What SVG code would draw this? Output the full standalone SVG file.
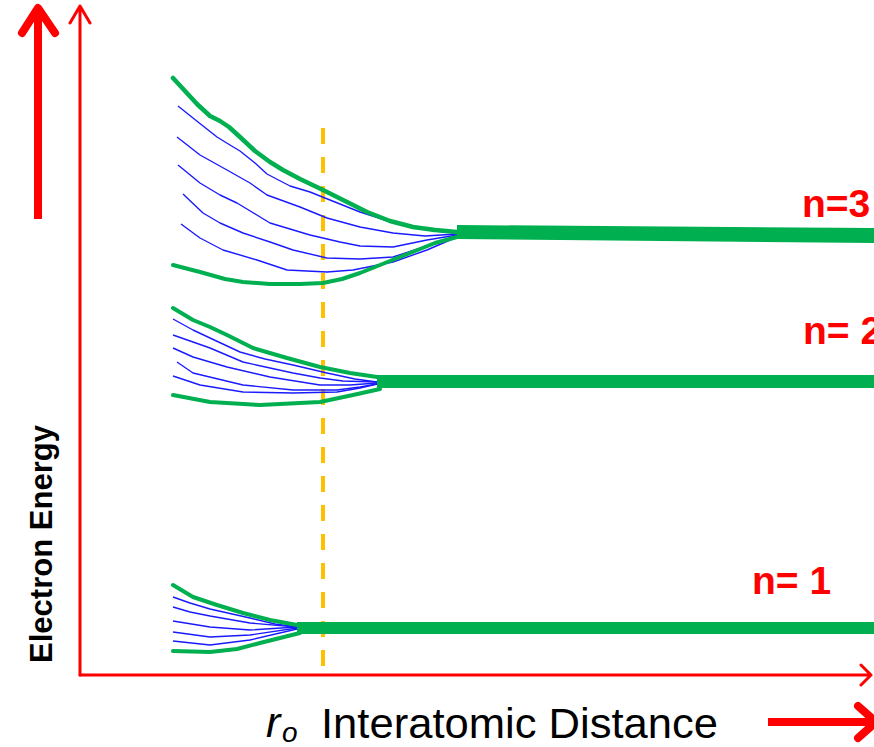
<svg xmlns="http://www.w3.org/2000/svg" width="874" height="747" viewBox="0 0 874 747">
<style>
.ax{fill:none;stroke:#FF0000;stroke-width:3;stroke-linecap:round;stroke-linejoin:round}
.big{fill:none;stroke:#FF0000;stroke-width:8;stroke-linejoin:round}
.g{fill:none;stroke:#00B050;stroke-width:4;stroke-linejoin:round;stroke-linecap:round}
.b{fill:none;stroke:#1a1aff;stroke-width:1.4;stroke-linejoin:round}
.bar{fill:#00B050}
.lbl{font-family:"Liberation Sans",Arial,sans-serif;font-weight:bold;font-size:39px;fill:#FF0000}
.txt{font-family:"Liberation Sans",Arial,sans-serif;fill:#000}
</style>
<rect width="874" height="747" fill="#fff"/>

<g id="axes">
  <path class="ax" d="M80,675 V6 M70,23 L80,6 L90,23"/>
  <path class="ax" d="M80,675 H871 M861,665 L871,675 L861,685"/>
  <path class="big" d="M38,219 V10"/>
  <path class="big" d="M22,33 L38,8 L55,33" style="stroke-linecap:round"/>
  <path class="big" d="M768,722 H870"/>
  <path class="big" d="M858,706 L876,722 L858,738" style="stroke-linecap:round"/>
  <line x1="323" y1="128" x2="323" y2="668" stroke="#FFC000" stroke-width="4" stroke-dasharray="16 13"/>
</g>

<g id="band-n3">
  <polygon class="bar" points="457,225 874,228 874,243 457,239"/>
  <path class="b" d="M178,106 L198,122 L217,137 L230,145 L240,151 L255,163 L267,174 L290,186 L310,192 L335,202 L360,212 L385,220 L410,227 L435,231 L457,233"/>
  <path class="b" d="M177,137 L200,155 L227,170 L250,183 L267,195 L300,207 L327,218 L360,227 L393,233 L425,236 L457,234"/>
  <path class="b" d="M178,165 L200,183 L220,195 L237,203 L270,223 L310,235 L340,242 L360,246 L393,247 L427,240 L457,235"/>
  <path class="b" d="M183,194 L203,213 L220,223 L243,233 L270,242 L293,250 L327,258 L360,259 L393,257 L427,246 L457,236"/>
  <path class="b" d="M181,224 L200,238 L223,250 L257,260 L287,270 L327,272 L353,270 L393,262 L427,250 L457,237"/>
  <path class="g" style="stroke-width:4.5" d="M173,78 L185,91 L197,104 L210,116 L220,121 L229,127 L240,137 L255,151 L270,162 L283,170 L300,179 L323,190 L345,201 L367,212 L390,221 L413,227 L435,230 L457,232"/>
  <path class="g" d="M173,265 L200,272 L225,279 L243,282 L270,284 L300,284 L323,283 L342,279 L360,273 L385,263 L410,253 L435,243 L457,237"/>
</g>

<g id="band-n2">
  <polygon class="bar" points="377,375 874,375 874,388 377,388"/>
  <path class="b" d="M173,319 L193,330 L210,338 L240,352 L265,359 L293,365 L327,373 L355,379 L377,382"/>
  <path class="b" d="M173,335 L193,342 L210,348 L243,362 L270,368 L293,373 L320,378 L343,381 L377,382"/>
  <path class="b" d="M173,348 L193,357 L227,367 L270,377 L320,385 L350,385 L377,383"/>
  <path class="b" d="M177,362 L193,373 L243,385 L293,390 L337,390 L360,387 L377,384"/>
  <path class="b" d="M173,376 L200,385 L243,392 L293,393 L337,392 L360,388 L377,384"/>
  <path class="g" d="M173,308 L193,320 L210,327 L227,335 L253,348 L287,358 L320,367 L350,373 L377,377"/>
  <path class="g" d="M173,395 L210,402 L260,405 L300,403 L320,402 L353,395 L380,389"/>
</g>

<g id="band-n1">
  <polygon class="bar" points="297,622 874,622 874,634 297,634"/>
  <path class="b" d="M173,597 L190,603 L210,609 L250,618 L275,624 L297,627"/>
  <path class="b" d="M173,607 L190,612 L210,616 L250,623 L297,627"/>
  <path class="b" d="M173,621 L210,627 L250,630 L297,627"/>
  <path class="b" d="M173,632 L210,637 L250,635 L297,628"/>
  <path class="b" d="M173,641 L210,645 L250,640 L297,629"/>
  <path class="g" d="M173,585 L193,597 L217,605 L243,613 L270,620 L297,625"/>
  <path class="g" d="M173,651 L210,652 L237,649 L260,643 L300,633"/>
</g>

<g id="labels">
  <text class="lbl" x="802" y="217">n=3</text>
  <text class="lbl" x="803" y="344">n= 2</text>
  <text class="lbl" x="752" y="594">n= 1</text>
  <text class="txt" transform="translate(52,663) rotate(-90)" font-weight="bold" font-size="31" textLength="238" lengthAdjust="spacingAndGlyphs">Electron Energy</text>
  <text class="txt" x="266" y="737" font-size="43" font-style="italic">r</text>
  <text class="txt" x="282" y="742" font-size="28" font-style="italic">o</text>
  <text class="txt" x="321" y="738" font-size="43" textLength="397" lengthAdjust="spacingAndGlyphs">Interatomic Distance</text>
</g>
</svg>
